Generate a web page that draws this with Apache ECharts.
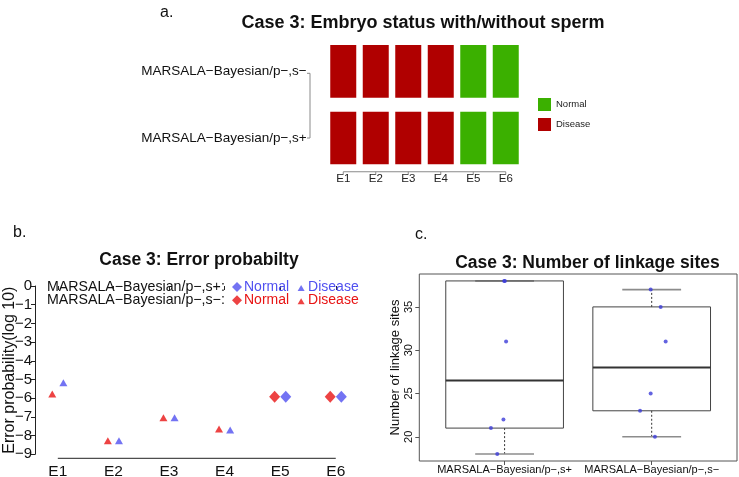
<!DOCTYPE html>
<html><head><meta charset="utf-8">
<script src="https://cdn.jsdelivr.net/npm/echarts@6/dist/echarts.min.js"></script>
<style>html,body{margin:0;padding:0;background:#fff}#c{width:739px;height:477px}</style>
</head><body><div id="c"></div>
<script>
// ---------- data ----------
const embryos = ['E1','E2','E3','E4','E5','E6'];
const methods = ['MARSALA−Bayesian/p−,s+','MARSALA−Bayesian/p−,s−'];
const statusPlus  = ['Disease','Disease','Disease','Disease','Normal','Normal'];
const statusMinus = ['Disease','Disease','Disease','Disease','Normal','Normal'];
const errPlus  = [-5.17,-8.27,-7.04,-7.70,-5.92,-5.92];
const errMinus = [-5.78,-8.27,-7.04,-7.65,-5.92,-5.92];
const errTicks = [0,-1,-2,-3,-4,-5,-6,-7,-8,-9];
const linkPlus  = [38,38,31,22,21,18];
const linkMinus = [37,35,31,25,23,20];
const jitterPlus  = [-0.003,0.002,0.010,-0.008,-0.093,-0.050];
const jitterMinus = [-0.007,0.061,0.095,-0.007,-0.079,0.022];
const linkTicks = [20,25,30,35];

// ---------- styles ----------
const FONT = '"Liberation Sans", Arial, Helvetica, sans-serif';
const RED_H = '#B00000', GREEN_H = '#3BB000';
const BLUE = '#5050F0', RED = '#E81414', DOT = '#3c3cd8';

// ---------- helpers ----------
function fivenum(arr){
  const x = arr.slice().sort((a,b)=>a-b), n = x.length;
  const n4 = Math.floor((n+3)/2)/2;
  const d = [1, n4, (n+1)/2, n+1-n4, n];
  return d.map(v => 0.5*(x[Math.floor(v)-1] + x[Math.ceil(v)-1]));
}
function boxStats(arr){
  const f = fivenum(arr), iqr = f[3]-f[1];
  const lo = Math.min(...arr.filter(v => v >= f[1]-1.5*iqr));
  const hi = Math.max(...arr.filter(v => v <= f[3]+1.5*iqr));
  return [lo, f[1], f[2], f[3], hi];
}
const minus = v => v === 0 ? '0' : (v < 0 ? '−' + Math.abs(v) : String(v));

function cells(status){
  const out = [];
  [statusPlus, statusMinus].forEach((row, r) => row.forEach((s, i) => { if (s === status) out.push([i, r]); }));
  return out;
}
function cellItem(params, api){
  const c = api.coord([api.value(0), api.value(1)]);
  const s = api.size([1, 1]);
  const w = s[0]*0.8, h = s[1]*0.79;
  return {type:'rect', shape:{x:c[0]-w/2, y:c[1]-h/2, width:w, height:h}, style:{fill: api.visual('color')}};
}
function boxItem(params, api){
  const x = api.value(0);
  const lo = api.value(1), q1 = api.value(2), md = api.value(3), q3 = api.value(4), hi = api.value(5);
  const half = api.size([0.8, 0])[0]/2, cap = api.size([0.4, 0])[0]/2;
  const pLo = api.coord([x, lo]), pQ1 = api.coord([x, q1]), pMd = api.coord([x, md]), pQ3 = api.coord([x, q3]), pHi = api.coord([x, hi]);
  const cx = pMd[0];
  const dash = {stroke:'#333', lineWidth:1, lineDash:[2,2]};
  const capS = {stroke:'#8c8c8c', lineWidth:1.6};
  return {type:'group', children:[
    {type:'line', shape:{x1:cx, y1:pQ1[1], x2:cx, y2:pLo[1]}, style:dash},
    {type:'line', shape:{x1:cx, y1:pQ3[1], x2:cx, y2:pHi[1]}, style:dash},
    {type:'line', shape:{x1:cx-cap, y1:pLo[1], x2:cx+cap, y2:pLo[1]}, style:capS},
    {type:'line', shape:{x1:cx-cap, y1:pHi[1], x2:cx+cap, y2:pHi[1]}, style:capS},
    {type:'rect', shape:{x:cx-half, y:pQ3[1], width:2*half, height:pQ1[1]-pQ3[1]}, style:{fill:'none', stroke:'#444', lineWidth:1}},
    {type:'line', shape:{x1:cx-half, y1:pMd[1], x2:cx+half, y2:pMd[1]}, style:{stroke:'#333', lineWidth:2}}
  ]};
}

const bxLo = 0.9, bxHi = embryos.length + 0.1, bxPad = 0.04*(bxHi-bxLo);
const allLink = linkPlus.concat(linkMinus);
const cyLo = Math.min(...allLink), cyHi = Math.max(...allLink), cyPad = 0.04*(cyHi-cyLo);

function errSeries(vals, status, want, dx){
  const out = [];
  vals.forEach((v, i) => { if (status[i] === want) out.push([i+1+dx, v]); });
  return out;
}
function jitterPts(vals, jit, pos){ return vals.map((v, i) => [pos+jit[i], v]); }

const nPlus = 'p−,s+ Normal', dPlus = 'p−,s+ Disease', nMinus = 'p−,s− Normal', dMinus = 'p−,s− Disease';
const TRI = 'path://M0,0 M10,10 M5,3 L8.5,9 L1.5,9 Z';

const txt = (text, x, y, size, weight, align) => ({type:'text', x, y, silent:true,
  style:{text, fontSize:size, fontWeight:weight||'normal', fontFamily:FONT, fill:'#111', align:align||'left', verticalAlign:'middle'}});

const option = {
  animation: false,
  backgroundColor: '#fff',
  textStyle: {fontFamily: FONT},
  grid: [
    {left:327, top:37.95, width:195, height:133.4, outerBoundsMode:'none', containLabel:false},
    {left:40.7, top:286, width:312.2, height:168.3, outerBoundsMode:'none', containLabel:false},
    {left:419.3, top:274, width:317.7, height:187, show:true, borderColor:'#555', borderWidth:1, backgroundColor:'transparent', outerBoundsMode:'none', containLabel:false}
  ],
  xAxis: [
    {gridIndex:0, type:'category', data:embryos, axisLine:{show:false}, axisTick:{show:false},
     axisLabel:{fontSize:11.5, color:'#222', margin:1}},
    {gridIndex:1, type:'value', min:bxLo-bxPad, max:bxHi+bxPad, offset:4, axisLine:{show:false},
     axisTick:{show:true, customValues:[1,2,3,4,5,6], length:4, lineStyle:{color:'#222'}},
     axisLabel:{customValues:[1,2,3,4,5,6], formatter:v => embryos[Math.round(v)-1], fontSize:15.5, color:'#111', margin:5},
     splitLine:{show:false}},
    {gridIndex:2, type:'value', min:0.42, max:2.58, axisLine:{show:false},
     axisTick:{show:true, customValues:[1,2], length:4, lineStyle:{color:'#555'}},
     axisLabel:{customValues:[1,2], formatter:v => methods[Math.round(v)-1], fontSize:11, color:'#111', margin:3},
     splitLine:{show:false}}
  ],
  yAxis: [
    {gridIndex:0, type:'category', data:methods, axisLine:{show:false}, axisTick:{show:false},
     axisLabel:{fontSize:13.5, color:'#111', margin:20.3}},
    {gridIndex:1, type:'value', min:-9, max:0, interval:1, offset:5.7,
     axisLine:{show:true, lineStyle:{color:'#222'}}, axisTick:{length:4, lineStyle:{color:'#222'}},
     axisLabel:{formatter:minus, fontSize:15, color:'#111', margin:3}, splitLine:{show:false},
     name:'Error probability(log 10)', nameLocation:'middle', nameGap:17.5, nameMoveOverlap:false,
     nameTextStyle:{fontSize:16, color:'#111'}},
    {gridIndex:2, type:'value', min:cyLo-cyPad, max:cyHi+cyPad, axisLine:{show:false},
     axisTick:{show:true, customValues:linkTicks, length:4, lineStyle:{color:'#555'}},
     axisLabel:{customValues:linkTicks, rotate:90, fontSize:11, color:'#111', margin:5}, splitLine:{show:false},
     name:'Number of linkage sites', nameLocation:'middle', nameGap:17, nameMoveOverlap:false,
     nameTextStyle:{fontSize:13, color:'#111'}}
  ],
  legend: [
    {left:538, top:98, orient:'vertical', itemWidth:13, itemHeight:13, itemGap:7, padding:0, selectedMode:false,
     icon:'rect', data:['Normal','Disease'], textStyle:{fontSize:9.5, color:'#222'}},
    {left:232, top:280, orient:'horizontal', itemWidth:10, itemHeight:10, itemGap:7, padding:0, selectedMode:false,
     data:[{name:nPlus, icon:'diamond', textStyle:{color:BLUE}}, {name:dPlus, icon:TRI, textStyle:{color:BLUE}}],
     formatter: n => n.split(' ')[1], textStyle:{fontSize:14, padding:[0,0,0,-3]}},
    {left:232, top:293.3, orient:'horizontal', itemWidth:10, itemHeight:10, itemGap:7, padding:0, selectedMode:false,
     data:[{name:nMinus, icon:'diamond', textStyle:{color:RED}}, {name:dMinus, icon:TRI, textStyle:{color:RED}}],
     formatter: n => n.split(' ')[1], textStyle:{fontSize:14, padding:[0,0,0,-3]}}
  ],
  series: [
    {name:'Normal', type:'custom', xAxisIndex:0, yAxisIndex:0, renderItem:cellItem, itemStyle:{color:GREEN_H}, data:cells('Normal'), encode:{x:0,y:1}},
    {name:'Disease', type:'custom', xAxisIndex:0, yAxisIndex:0, renderItem:cellItem, itemStyle:{color:RED_H}, data:cells('Disease'), encode:{x:0,y:1}},
    {name:nMinus, type:'scatter', xAxisIndex:1, yAxisIndex:1, symbol:'diamond', symbolSize:[11,12], itemStyle:{color:RED}, data:errSeries(errMinus, statusMinus, 'Normal', -0.1)},
    {name:dMinus, type:'scatter', xAxisIndex:1, yAxisIndex:1, symbol:'triangle', symbolSize:[8,7], itemStyle:{color:RED}, data:errSeries(errMinus, statusMinus, 'Disease', -0.1)},
    {name:nPlus, type:'scatter', xAxisIndex:1, yAxisIndex:1, symbol:'diamond', symbolSize:[11,12], itemStyle:{color:BLUE}, data:errSeries(errPlus, statusPlus, 'Normal', 0.1)},
    {name:dPlus, type:'scatter', xAxisIndex:1, yAxisIndex:1, symbol:'triangle', symbolSize:[8,7], itemStyle:{color:BLUE}, data:errSeries(errPlus, statusPlus, 'Disease', 0.1)},
    {name:'box', type:'custom', xAxisIndex:2, yAxisIndex:2, renderItem:boxItem,
     data:[[1].concat(boxStats(linkPlus)), [2].concat(boxStats(linkMinus))], encode:{x:0, y:[1,2,3,4,5]}},
    {name:'sites', type:'scatter', xAxisIndex:2, yAxisIndex:2, symbol:'circle', symbolSize:4, itemStyle:{color:DOT},
     data: jitterPts(linkPlus, jitterPlus, 1).concat(jitterPts(linkMinus, jitterMinus, 2))}
  ],
  graphic: [
    txt('a.', 160, 13, 16),
    txt('Case 3: Embryo status with/without sperm', 423, 23.5, 18, 'bold', 'center'),
    txt('b.', 13, 233, 16),
    txt('Case 3: Error probabilty', 199, 260, 17.5, 'bold', 'center'),
    txt('c.', 415, 235, 16),
    txt('Case 3: Number of linkage sites', 587.5, 263.3, 17.5, 'bold', 'center'),
    txt('MARSALA−Bayesian/p−,s+:', 47, 286.7, 14.2),
    txt('MARSALA−Bayesian/p−,s−:', 47, 300, 14.2)
  ]
};

const chart = echarts.init(document.getElementById('c'), null, {renderer:'canvas'});
chart.setOption(option);

const f0 = {xAxisIndex:0, yAxisIndex:0};
const ePts = embryos.map((e, i) => chart.convertToPixel(f0, [i, 0]));
const rowBottom = ePts[0][1], rowTop = chart.convertToPixel(f0, [0, 1])[1];
const bandY = rowBottom - rowTop, bandX = ePts[1][0] - ePts[0][0];
const gBottom = rowBottom + bandY/2, gLeft = ePts[0][0] - bandX/2;
const grey = {stroke:'#8a8a8a', lineWidth:1};
const lines = [];
lines.push({type:'line', silent:true, shape:{x1:ePts[0][0], y1:gBottom+0.4, x2:ePts[5][0], y2:gBottom+0.4}, style:grey});
ePts.forEach(p => lines.push({type:'line', silent:true, shape:{x1:p[0], y1:gBottom+0.4, x2:p[0], y2:gBottom+3.4}, style:grey}));
const dx = gLeft - 17;
lines.push({type:'line', silent:true, shape:{x1:dx, y1:rowTop+2, x2:dx, y2:rowBottom}, style:grey});
lines.push({type:'line', silent:true, shape:{x1:dx-3, y1:rowTop+2, x2:dx, y2:rowTop+2}, style:grey});
lines.push({type:'line', silent:true, shape:{x1:dx-3, y1:rowBottom, x2:dx, y2:rowBottom}, style:grey});
const f1 = {xAxisIndex:1, yAxisIndex:1};
const a1 = chart.convertToPixel(f1, [1, -9]), a6 = chart.convertToPixel(f1, [6, -9]);
lines.push({type:'line', silent:true, shape:{x1:a1[0], y1:a1[1]+4, x2:a6[0], y2:a6[1]+4}, style:{stroke:'#222', lineWidth:1}});
option.graphic = option.graphic.concat(lines);
chart.setOption(option);
</script>
</body></html>
